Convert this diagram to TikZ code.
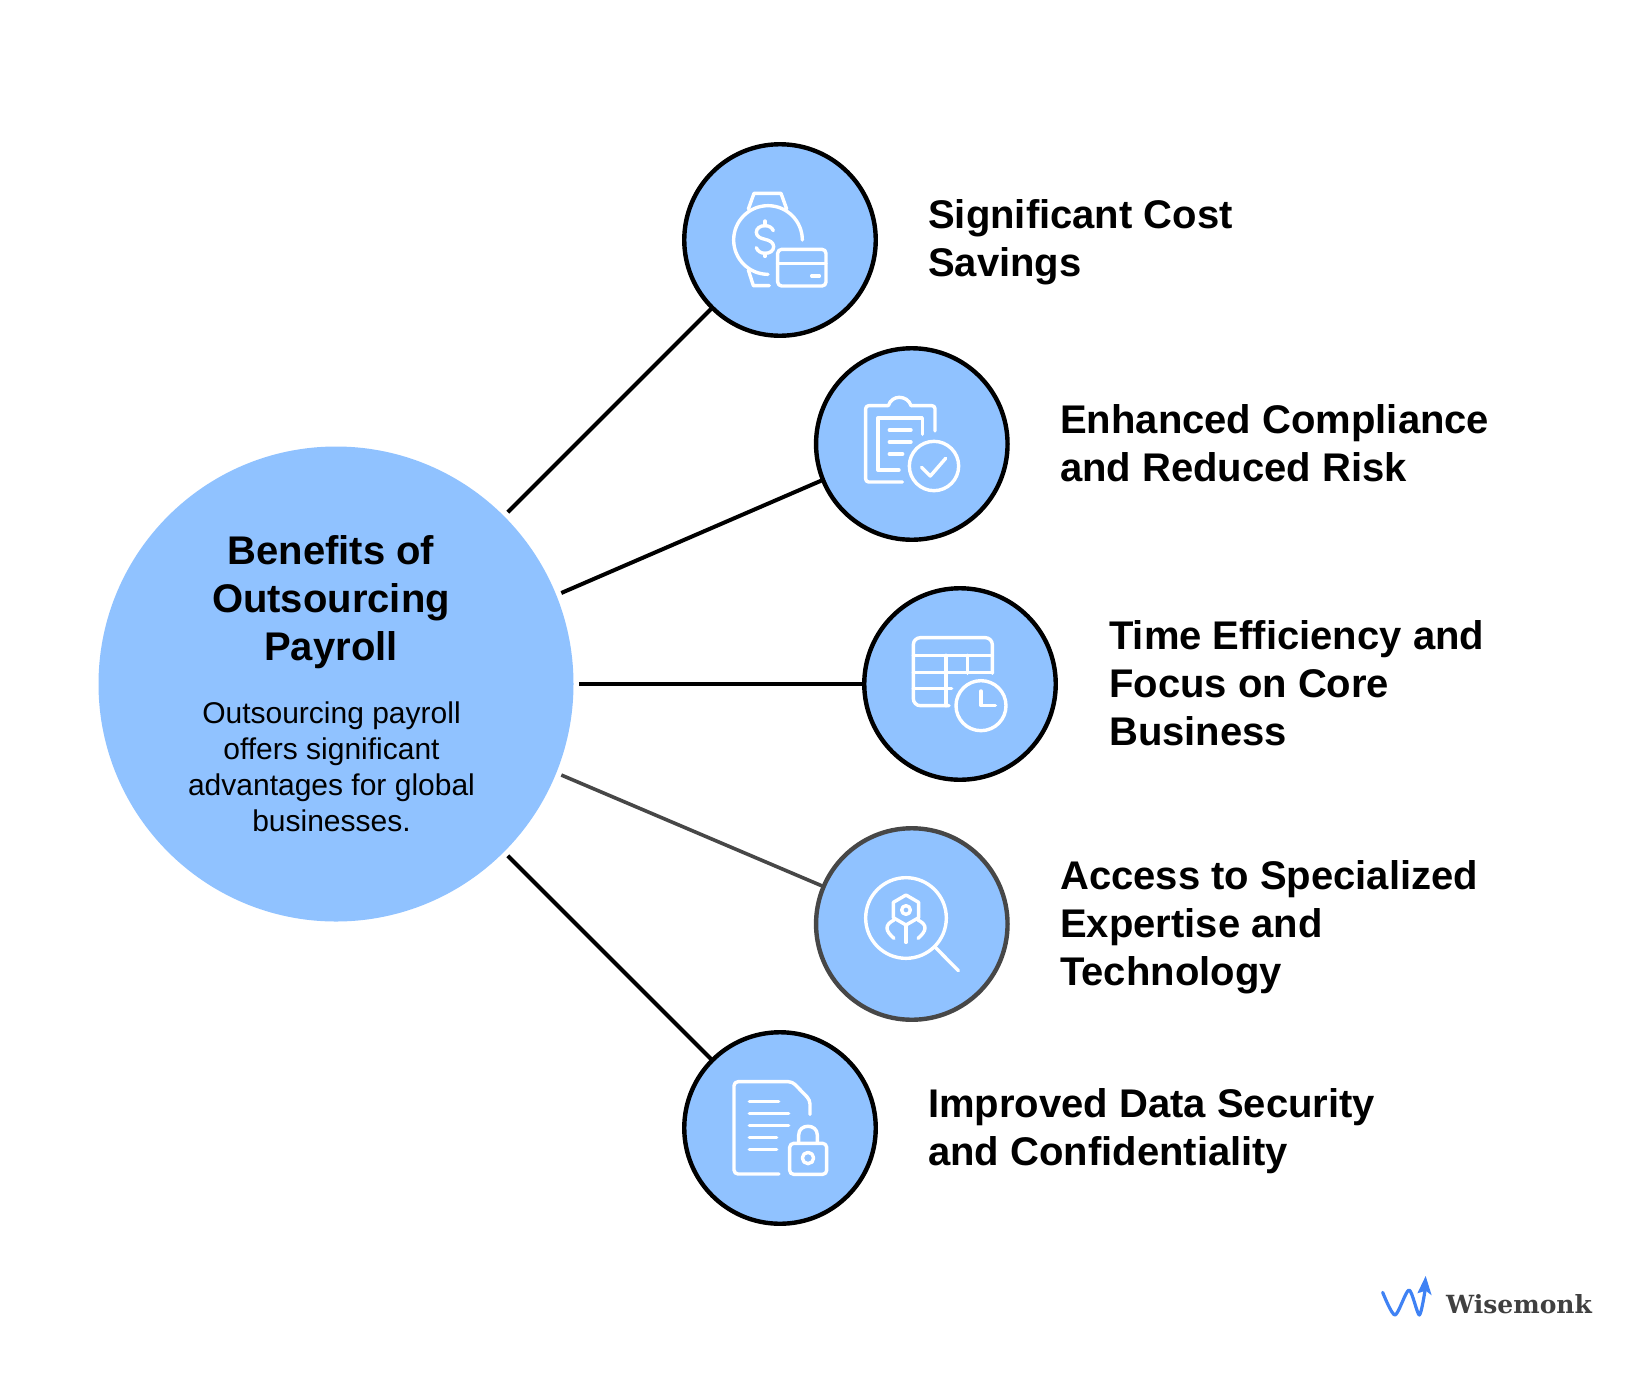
\documentclass[tikz,border=0pt]{standalone}
\usepackage{fontspec}
\setmainfont{Liberation Sans}
\newfontfamily\logofont{DejaVu Serif}
\definecolor{circblue}{HTML}{90C2FF}
\definecolor{darkline}{HTML}{474747}
\definecolor{logoblue}{HTML}{3F82F4}
\definecolor{logotext}{HTML}{404040}
\tikzset{
  hub/.style={circle,fill=circblue,minimum size=475pt,inner sep=0pt,outer sep=0pt},
  hubring/.style={circle,minimum size=486pt,inner sep=0pt,outer sep=0pt},
  spoke/.style={circle,fill=circblue,draw=black,line width=4.4pt,minimum size=191.5pt,inner sep=0pt,outer sep=0pt},
  graphspoke/.style={spoke,draw=darkline},
  link/.style={draw=black,line width=4pt},
  graylink/.style={draw=darkline,line width=3.6pt},
  lab/.style={anchor=west,align=left,font=\fontsize{40}{48}\selectfont\bfseries,inner sep=0pt},
  icon/.style={draw=white,line width=3.4pt,line cap=round,line join=round},
  iconspace/.style={x=0.33333pt,y=-0.33333pt}
}
\begin{document}
\begin{tikzpicture}[x=1pt,y=-1pt]
\useasboundingbox (0,0) rectangle (1639,1374);
\node[hub] (hub) at (336,684) {};
\node[hubring] (ring) at (336,684) {};
\node[spoke] (c1) at (780,240) {};
\node[spoke] (c2) at (911.8,444) {};
\node[spoke] (c3) at (960,684) {};
\node[graphspoke] (c4) at (911.8,924) {};
\node[spoke] (c5) at (780,1128) {};
\draw[link] (ring.45) -- (c1.225);
\draw[link] (ring.22.5) -- (c2.202.5);
\draw[link] (ring.0) -- (c3.180);
\draw[graylink] (ring.-22.5) -- (c4.157.5);
\draw[link] (ring.-45) -- (c5.135);
% hub text
\node[anchor=center,align=center,inner sep=0pt,font=\fontsize{40}{48}\selectfont\bfseries] (title) at (331,602.5) {Benefits of\\Outsourcing\\Payroll};
\node[anchor=center,align=center,inner sep=0pt,font=\fontsize{30}{36}\selectfont] (body) at (331.5,767) {Outsourcing payroll\\offers significant\\advantages for global\\businesses.};
% labels
\node[lab] (t1) at (928,242.5) {Significant Cost\\Savings};
\node[lab] (t2) at (1060,443) {Enhanced Compliance\\and Reduced Risk};
\node[lab] (t3) at (1109,683.5) {Time Efficiency and\\Focus on Core\\Business};
\node[lab] (t4) at (1060,927.5) {Access to Specialized\\Expertise and\\Technology};
\node[lab] (t5) at (928,1131.5) {Improved Data Security\\and Confidentiality};
% icon 1
\begin{scope}[shift={(680,140)},iconspace]
\draw[icon] (367,300) arc[start angle=0,end angle=-270,radius=103];
\draw[icon] (205,207) -- (222,160) -- (303,160) -- (320,207);
\draw[icon] (205,390) -- (220,437) -- (268,437);
\draw[icon] (280,272) .. controls (276,262) and (266,257) .. (255,257) .. controls (240,257) and (229,265) .. (229,277) .. controls (229,290) and (242,295) .. (255,298) .. controls (268,301) and (281,307) .. (281,320) .. controls (281,332) and (270,340) .. (255,340) .. controls (243,340) and (232,333) .. (229,323);
\draw[icon] (255,243) -- (255,257) (255,340) -- (255,349);
\draw[icon,rounded corners=4pt] (293,328) rectangle (438,438);
\draw[icon] (293,370) -- (438,370) (395,408) -- (418,408);
\end{scope}
% icon 2
\begin{scope}[shift={(810,345)},iconspace]
\draw[icon,rounded corners=3pt] (277,411) -- (167,411) -- (167,182) -- (235,182);
\draw[icon] (235,182) .. controls (240,165) and (255,157) .. (268,157) .. controls (282,157) and (298,165) .. (303,182);
\draw[icon,rounded corners=3pt] (303,182) -- (375,182) -- (375,258);
\draw[icon] (337,268) -- (337,219) -- (204,219) -- (204,375) -- (267,375);
\draw[icon] (238,255) -- (303,255) (238,291) -- (303,291) (238,327) -- (278,327);
\draw[icon] (372,363) circle[radius=74];
\draw[icon] (335,367) -- (361,393) -- (407,340);
\end{scope}
% icon 3
\begin{scope}[shift={(860,585)},iconspace]
\draw[icon,rounded corners=7pt] (397,265) -- (397,158) -- (160,158) -- (160,362) -- (267,362);
\draw[icon] (160,211) -- (397,211) (160,262) -- (397,262) (160,311) -- (275,311);
\draw[icon] (258,211) -- (258,362) (323,211) -- (323,265);
\draw[icon] (363,362) circle[radius=75];
\draw[icon] (363,318) -- (363,362) -- (406,362);
\end{scope}
% icon 4
\begin{scope}[shift={(810,825)},iconspace]
\draw[icon] (288,279) circle[radius=121];
\draw[icon] (376,367) -- (445,437);
\draw[icon] (288,210) -- (326,232) -- (326,278) -- (288,300) -- (250,278) -- (250,232) -- cycle;
\draw[icon] (288,255) circle[radius=13];
\draw[icon] (288,300) -- (288,352);
\draw[icon] (252,285) .. controls (222,300) and (226,318) .. (252,340);
\draw[icon] (324,285) .. controls (354,300) and (350,318) .. (324,340);
\end{scope}
% icon 5
\begin{scope}[shift={(680,1030)},iconspace]
\draw[icon,rounded corners=4pt] (297,432) -- (162,432) -- (162,155) -- (337,155) -- (390,210) -- (390,253);
\draw[icon] (208,215) -- (296,215) (208,251) -- (326,251) (208,287) -- (326,287) (208,323) -- (290,323) (208,359) -- (290,359);
\draw[icon,rounded corners=4pt] (329,340) rectangle (440,433);
\draw[icon] (356,340) -- (356,315) .. controls (356,280) and (412,280) .. (412,315) -- (412,340);
\draw[icon] (384,384) circle[radius=17];
\end{scope}
% logo
\begin{scope}[shift={(1360,1260)},iconspace]
\draw[draw=logoblue,line width=3.2pt,line cap=round,line join=round] plot[smooth,tension=0.45] coordinates {(68,97) (105,165) (147,90) (178,165) (196,85)};
\fill[logoblue] (197,48) -- (215,106) -- (197,92) -- (172,100) -- cycle;
\end{scope}
\node[anchor=base west,inner sep=0pt,text=logotext,font=\logofont\bfseries\fontsize{25}{30}\selectfont] (logo) at (1446,1313) {Wisemonk};
\end{tikzpicture}
\end{document}
